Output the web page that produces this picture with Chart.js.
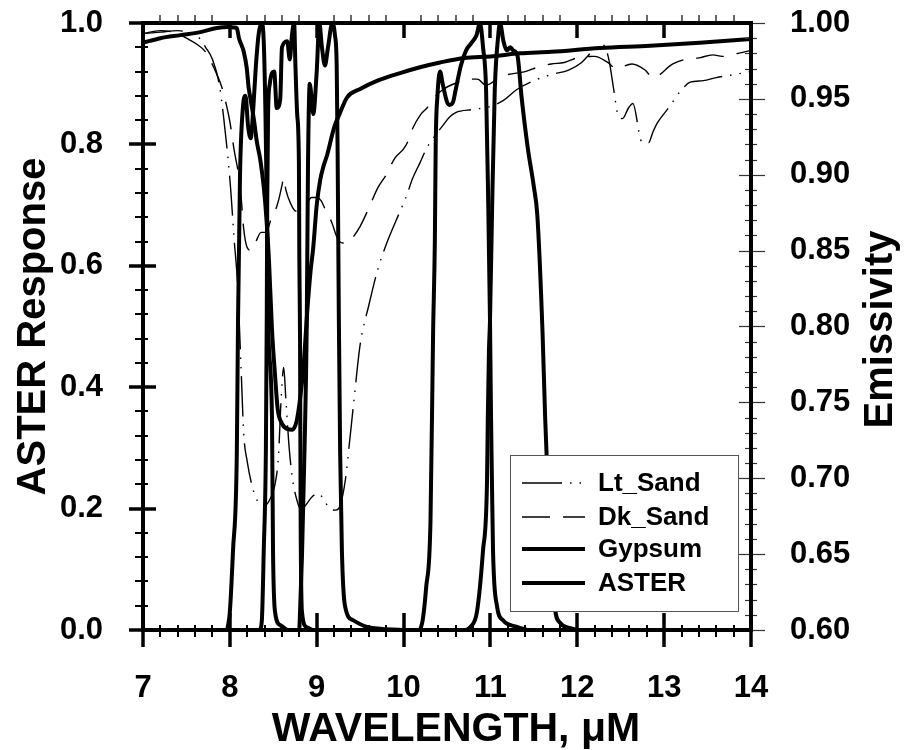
<!DOCTYPE html>
<html>
<head>
<meta charset="utf-8">
<script src="https://cdn.jsdelivr.net/npm/chart.js@4.4.1/dist/chart.umd.min.js"></script>
<style>
  html, body { margin: 0; padding: 0; background: #fff; }
  canvas { display: block; }
</style>
</head>
<body>
<canvas id="c" width="907" height="750"></canvas>
<script>
// ---------- data ----------
const seriesNames = ['Lt_Sand', 'Dk_Sand', 'Gypsum', 'ASTER'];
const xTickValues = [7, 8, 9, 10, 11, 12, 13, 14];
const leftTickValues = [0, 0.2, 0.4, 0.6, 0.8, 1.0];
const rightTickValues = [0.60, 0.65, 0.70, 0.75, 0.80, 0.85, 0.90, 0.95, 1.00];
const xAxisTitle = 'WAVELENGTH, \u03BCM';
const leftAxisTitle = 'ASTER Response';
const rightAxisTitle = 'Emissivity';

// [wavelength (um), emissivity]
const ltSand = [[7.0,0.993],[7.2,0.994],[7.4,0.995],[7.55,0.993],[7.65,0.990],[7.72,0.984],[7.8,0.976],[7.88,0.959],[7.93,0.937],[7.98,0.910],
  [8.01,0.890],[8.05,0.857],[8.09,0.827],[8.13,0.771],[8.16,0.729],[8.2,0.711],[8.27,0.692],[8.33,0.684],[8.4,0.682],[8.46,0.686],
  [8.52,0.696],[8.56,0.715],[8.59,0.752],[8.62,0.773],[8.645,0.752],[8.68,0.722],[8.72,0.700],[8.77,0.686],[8.82,0.679],[8.87,0.682],
  [8.95,0.688],[9.02,0.690],[9.08,0.686],[9.15,0.680],[9.22,0.679],[9.27,0.682],[9.33,0.699],[9.38,0.725],[9.43,0.752],[9.5,0.788],
  [9.6,0.814],[9.7,0.837],[9.8,0.854],[9.96,0.876],[10.04,0.887],[10.1,0.897],[10.19,0.908],[10.27,0.918],[10.34,0.924],[10.46,0.933],
  [10.53,0.938],[10.6,0.941],[10.8,0.943],[11.0,0.945],[11.15,0.949],[11.3,0.956],[11.5,0.962],[11.7,0.966],[11.9,0.969],[12.05,0.974],
  [12.15,0.980],[12.22,0.984],[12.28,0.986],[12.33,0.983],[12.37,0.974],[12.42,0.956],[12.47,0.939],[12.52,0.937],[12.59,0.944],[12.64,0.947],
  [12.74,0.922],[12.82,0.921],[12.87,0.928],[12.92,0.934],[13.05,0.944],[13.2,0.956],[13.3,0.961],[13.45,0.962],[13.6,0.964],[13.8,0.966],[14.0,0.968]];

const dkSand = [[7.0,0.993],[7.2,0.995],[7.4,0.993],[7.5,0.990],[7.62,0.986],[7.72,0.981],[7.82,0.970],[7.9,0.959],[7.96,0.946],[8.0,0.935],
  [8.05,0.916],[8.1,0.900],[8.13,0.885],[8.16,0.864],[8.2,0.852],[8.25,0.850],[8.3,0.856],[8.36,0.862],[8.42,0.862],[8.48,0.872],
  [8.52,0.876],[8.56,0.883],[8.6,0.893],[8.62,0.898],[8.645,0.890],[8.7,0.881],[8.76,0.876],[8.81,0.876],[8.87,0.879],[8.94,0.885],
  [9.0,0.885],[9.05,0.883],[9.1,0.877],[9.17,0.869],[9.24,0.858],[9.3,0.855],[9.36,0.855],[9.42,0.859],[9.5,0.866],[9.6,0.878],
  [9.7,0.891],[9.8,0.900],[9.9,0.911],[10.0,0.917],[10.05,0.922],[10.1,0.930],[10.2,0.940],[10.27,0.944],[10.34,0.950],[10.45,0.956],
  [10.63,0.961],[10.75,0.963],[10.85,0.963],[10.95,0.959],[11.1,0.964],[11.2,0.966],[11.4,0.968],[11.55,0.971],[11.7,0.973],[11.85,0.974],
  [12.0,0.977],[12.2,0.978],[12.35,0.974],[12.45,0.970],[12.63,0.973],[12.78,0.969],[12.87,0.964],[13.1,0.973],[13.24,0.976],[13.4,0.977],
  [13.56,0.979],[13.67,0.978],[13.85,0.980],[14.0,0.982]];

const gypsum = [[7.0,0.987],[7.2,0.990],[7.43,0.992],[7.66,0.994],[7.85,0.9967],[7.98,0.9974],[8.05,0.997],[8.08,0.9965],[8.105,0.990],[8.16,0.981],
  [8.195,0.970],[8.215,0.958],[8.235,0.951],[8.28,0.935],[8.31,0.922],[8.35,0.910],[8.39,0.892],[8.42,0.872],[8.45,0.844],[8.485,0.798],
  [8.52,0.768],[8.55,0.746],[8.6,0.736],[8.66,0.7325],[8.72,0.732],[8.77,0.738],[8.81,0.753],[8.85,0.775],[8.89,0.809],[8.93,0.837],
  [8.96,0.852],[9.0,0.880],[9.04,0.8965],[9.08,0.906],[9.12,0.913],[9.2,0.931],[9.27,0.941],[9.35,0.951],[9.5,0.9565],[9.7,0.962],
  [9.96,0.967],[10.2,0.971],[10.42,0.974],[10.7,0.977],[11.0,0.978],[11.34,0.980],[11.7,0.981],[12.26,0.9835],[12.84,0.985],[13.41,0.987],[14.0,0.9895]];

// [wavelength (um), ASTER response] one array per TIR band
const asterBand10 = [[7.97,0],[8.0,0.03],[8.036,0.13],[8.08,0.29],[8.094,0.51],[8.117,0.75],[8.15,0.86],[8.18,0.88],[8.21,0.83],[8.24,0.81],
  [8.27,0.86],[8.3,0.93],[8.33,0.98],[8.365,1.0],[8.39,0.97],[8.41,0.85],[8.43,0.65],[8.44,0.51],[8.485,0.35],[8.497,0.13],[8.52,0.03],[8.58,0.008],[8.66,0]];
const asterBand11 = [[8.35,0],[8.37,0.02],[8.39,0.13],[8.415,0.3],[8.425,0.52],[8.43,0.7],[8.44,0.85],[8.46,0.9],[8.51,0.92],[8.54,0.86],
  [8.58,0.875],[8.6,0.96],[8.66,0.97],[8.69,0.94],[8.715,0.98],[8.74,1.0],[8.755,0.93],[8.775,0.85],[8.795,0.77],[8.8,0.61],[8.808,0.48],
  [8.815,0.18],[8.83,0.03],[8.88,0.005],[8.95,0]];
const asterBand12 = [[8.8,0],[8.83,0.12],[8.86,0.3],[8.885,0.5],[8.9,0.77],[8.92,0.9],[8.96,0.85],[9.0,0.92],[9.03,1.0],[9.06,0.96],
  [9.095,0.93],[9.13,0.96],[9.18,1.0],[9.21,0.98],[9.23,0.93],[9.24,0.8],[9.255,0.51],[9.27,0.29],[9.29,0.13],[9.325,0.04],[9.42,0.016],[9.58,0.005],[10.0,0]];
const asterBand13 = [[10.19,0],[10.22,0.016],[10.26,0.07],[10.31,0.18],[10.34,0.49],[10.36,0.64],[10.37,0.8],[10.39,0.88],[10.42,0.92],[10.45,0.9],
  [10.5,0.87],[10.53,0.865],[10.57,0.87],[10.6,0.89],[10.66,0.93],[10.72,0.955],[10.78,0.967],[10.84,0.98],[10.88,1.0],[10.915,0.96],
  [10.95,0.89],[10.975,0.7],[10.995,0.51],[11.007,0.35],[11.018,0.24],[11.03,0.13],[11.075,0.04],[11.145,0.016],[11.306,0.005],[11.42,0]];
const asterBand14 = [[10.72,0],[10.77,0.005],[10.845,0.03],[10.914,0.13],[10.96,0.24],[10.97,0.35],[10.983,0.46],[10.995,0.51],[11.02,0.7],[11.05,0.89],
  [11.087,0.975],[11.11,1.0],[11.15,0.97],[11.19,0.955],[11.23,0.96],[11.26,0.955],[11.31,0.947],[11.36,0.876],[11.43,0.794],[11.5,0.73],
  [11.54,0.683],[11.6,0.49],[11.63,0.35],[11.66,0.24],[11.71,0.13],[11.74,0.04],[11.8,0.012],[11.92,0.003],[12.0,0]];
const asterBands = [asterBand10, asterBand11, asterBand12, asterBand13, asterBand14];

// ---------- chart ----------
const FONT = '"Liberation Sans", Arial, Helvetica, sans-serif';
const toXY = arr => arr.map(p => ({ x: p[0], y: p[1] }));
const common = { pointRadius: 0, fill: false, borderColor: '#000', cubicInterpolationMode: 'monotone', borderCapStyle: 'butt', borderJoinStyle: 'round' };

const datasets = [
  Object.assign({ label: seriesNames[0], data: toXY(ltSand), yAxisID: 'y2', borderWidth: 1.4, borderDash: [40, 8, 1.5, 8, 1.5, 8] }, common),
  Object.assign({ label: seriesNames[1], data: toXY(dkSand), yAxisID: 'y2', borderWidth: 1.4, borderDash: [28, 13] }, common),
  Object.assign({ label: seriesNames[2], data: toXY(gypsum), yAxisID: 'y2', borderWidth: 4 }, common),
].concat(asterBands.map((b, i) => Object.assign({ label: seriesNames[3], data: toXY(b), yAxisID: 'y', borderWidth: 4, legendHidden: i > 0 }, common)));

const tickFont = { family: FONT, size: 31, weight: 'bold', lineHeight: 1.2 };
const titleFont = { family: FONT, size: 40, weight: 'bold', lineHeight: 1 };

const decor = {
  id: 'decor',
  afterDatasetsDraw(chart) {
    const { ctx, chartArea: a, scales } = chart;
    const sx = scales.x, sy = scales.y, sy2 = scales.y2;
    const seg = (x1, y1, x2, y2) => { ctx.beginPath(); ctx.moveTo(x1, y1); ctx.lineTo(x2, y2); ctx.stroke(); };
    ctx.save();
    ctx.lineCap = 'butt';
    ctx.strokeStyle = '#000';
    // x ticks: major every 1, minor every 0.2
    for (let i = 0; i <= 35; i++) {
      const px = Math.round(sx.getPixelForValue(7 + i * 0.2));
      if (i % 5 === 0) {
        ctx.lineWidth = 3.5; seg(px, a.bottom - 17, px, a.bottom + 17); seg(px, a.top, px, a.top + 15);
      } else {
        ctx.lineWidth = 2; seg(px, a.bottom - 5, px, a.bottom + 7);
        ctx.lineWidth = 1.2; seg(px, a.top - 8, px, a.top);
      }
    }
    // left ticks: major every 0.2, minor every 0.04
    for (let i = 0; i <= 25; i++) {
      const py = Math.round(sy.getPixelForValue(i * 0.04));
      if (i % 5 === 0) { ctx.lineWidth = 3.5; seg(a.left - 14, py, a.left + 13, py); }
      else { ctx.lineWidth = 2; seg(a.left - 8, py, a.left + 5, py); }
    }
    // right ticks: major every 0.05, minor every 0.01
    ctx.strokeStyle = '#333'; ctx.lineWidth = 1.2;
    for (let i = 0; i <= 40; i++) {
      const py = Math.round(sy2.getPixelForValue(0.6 + i * 0.01)) + 0.5;
      if (i % 5 === 0) seg(a.right - 12, py, a.right + 14, py);
      else seg(a.right - 6, py, a.right + 6, py);
    }
    // legend box
    const bx = a.right - 241, by = a.bottom - 175, bw = 228, bh = 156;
    ctx.fillStyle = '#fff'; ctx.fillRect(bx, by, bw, bh);
    ctx.strokeStyle = '#555'; ctx.lineWidth = 1; ctx.strokeRect(bx + 0.5, by + 0.5, bw, bh);
    const items = chart.data.datasets.filter(d => !d.legendHidden);
    const rowY = [28, 62, 94, 128];
    ctx.font = 'bold 26px ' + FONT; ctx.textBaseline = 'middle'; ctx.textAlign = 'left'; ctx.fillStyle = '#000';
    items.forEach((d, k) => {
      const yy = by + rowY[k];
      ctx.strokeStyle = '#000'; ctx.lineWidth = d.borderWidth;
      ctx.setLineDash(d.borderDash || []);
      seg(bx + 12, yy, bx + 75, yy);
      ctx.setLineDash([]);
      ctx.fillText(d.label, bx + 88, yy + 1);
    });
    // plot frame
    ctx.strokeStyle = '#000'; ctx.lineWidth = 4;
    ctx.strokeRect(a.left, a.top, a.right - a.left, a.bottom - a.top);
    ctx.fillStyle = '#000';
    // x axis title
    ctx.font = 'bold 41px ' + FONT; ctx.textAlign = 'center'; ctx.textBaseline = 'middle';
    ctx.fillText(xAxisTitle, (a.left + a.right) / 2 + 9, a.bottom + 100);
    // right axis title (reads bottom to top)
    ctx.save();
    ctx.translate(881, (a.top + a.bottom) / 2 + 3);
    ctx.rotate(-Math.PI / 2);
    ctx.font = 'bold 40px ' + FONT;
    ctx.fillText(rightAxisTitle, 0, 0);
    ctx.restore();
    ctx.restore();
  }
};

const noPadV = s => { s.paddingTop = 0; s.paddingBottom = 0; };

new Chart(document.getElementById('c'), {
  type: 'line',
  data: { datasets },
  plugins: [decor],
  options: {
    responsive: false,
    animation: false,
    devicePixelRatio: 1,
    layout: { padding: { top: 23, left: 0, right: 0, bottom: 0 } },
    plugins: { legend: { display: false }, tooltip: { enabled: false } },
    scales: {
      x: {
        type: 'linear', position: 'bottom', min: 7, max: 14,
        afterBuildTicks: s => { s.ticks = xTickValues.map(v => ({ value: v })); },
        afterFit: s => { s.height = 120; s.paddingLeft = 0; s.paddingRight = 0; },
        grid: { display: false }, border: { display: false },
        ticks: { color: '#000', font: tickFont, padding: 32, maxRotation: 0, autoSkip: false, callback: v => String(v) }
      },
      y: {
        type: 'linear', position: 'left', min: 0, max: 1,
        afterBuildTicks: s => { s.ticks = leftTickValues.map(v => ({ value: v })); },
        afterFit: s => { s.width = 143; noPadV(s); },
        grid: { display: false }, border: { display: false },
        ticks: { color: '#000', font: tickFont, padding: 32, autoSkip: false, callback: v => Number(v).toFixed(1) },
        title: { display: true, text: leftAxisTitle, color: '#000', font: titleFont, padding: { top: 14, bottom: 0 } }
      },
      y2: {
        type: 'linear', position: 'right', min: 0.6, max: 1.0,
        afterBuildTicks: s => { s.ticks = rightTickValues.map(v => ({ value: v })); },
        afterFit: s => { s.width = 156; noPadV(s); },
        grid: { display: false }, border: { display: false },
        ticks: { color: '#000', font: tickFont, padding: 31, autoSkip: false, callback: v => Number(v).toFixed(2) }
      }
    }
  }
});
</script>
</body>
</html>
